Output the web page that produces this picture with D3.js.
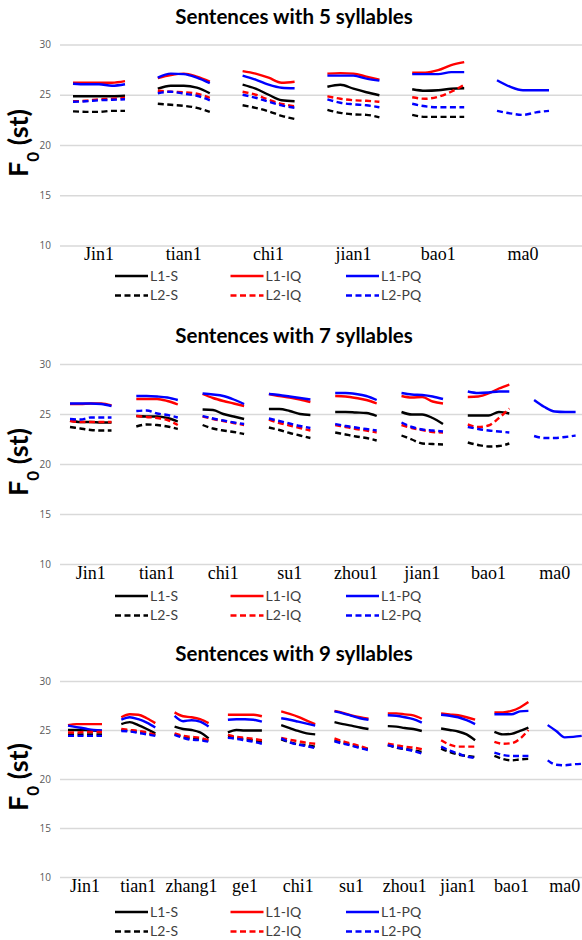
<!DOCTYPE html>
<html>
<head>
<meta charset="utf-8">
<script src="https://cdn.jsdelivr.net/npm/d3@7"></script>
<style>
  body { margin: 0; background: #fff; }
  svg { display: block; }
</style>
</head>
<body>
<svg id="chart" width="582" height="940"></svg>
<script>
// y axis ticks (st) and the six series
var yTicks = [10, 15, 20, 25, 30]
var seriesNames = ['L1-S', 'L1-IQ', 'L1-PQ', 'L2-S', 'L2-IQ', 'L2-PQ']

// syllables of each sentence
var syl5 = ['Jin1', 'tian1', 'chi1', 'jian1', 'bao1', 'ma0']
var syl7 = ['Jin1', 'tian1', 'chi1', 'su1', 'zhou1', 'jian1', 'bao1', 'ma0']
var syl9 = ['Jin1', 'tian1', 'zhang1', 'ge1', 'chi1', 'su1', 'zhou1', 'jian1', 'bao1', 'ma0']

// F0 contours, 5 samples per syllable (st)
var s5_L1S = [[24.85, 24.85, 24.85, 24.85, 24.9], [25.6, 25.9, 25.9, 25.7, 25.15], [26.0, 25.6, 25.0, 24.45, 24.35], [25.8, 26.0, 25.6, 25.25, 24.95], [25.55, 25.4, 25.45, 25.6, 25.65], null]
var s5_L1IQ = [[26.2, 26.2, 26.2, 26.2, 26.35], [26.65, 26.95, 27.1, 26.8, 26.3], [27.35, 27.1, 26.7, 26.2, 26.3], [27.1, 27.15, 27.1, 26.8, 26.5], [27.2, 27.2, 27.45, 27.95, 28.25], null]
var s5_L1PQ = [[26.1, 26.05, 26.05, 25.9, 26.05], [26.7, 27.1, 27.05, 26.7, 26.15], [26.9, 26.5, 26.0, 25.7, 25.65], [26.9, 26.9, 26.9, 26.6, 26.4], [27.05, 27.05, 27.05, 27.25, 27.25], [26.45, 25.8, 25.45, 25.45, 25.45]]
var s5_L2S = [[23.35, 23.3, 23.3, 23.4, 23.4], [24.1, 24.0, 23.9, 23.7, 23.3], [23.95, 23.7, 23.35, 22.9, 22.6], [23.5, 23.2, 23.05, 23.0, 22.75], [23.0, 22.8, 22.8, 22.8, 22.8], null]
var s5_L2IQ = [[24.35, 24.4, 24.55, 24.6, 24.7], [25.4, 25.3, 25.25, 25.1, 24.7], [25.3, 25.0, 24.5, 24.1, 23.85], [24.85, 24.6, 24.45, 24.4, 24.3], [24.75, 24.6, 24.8, 25.3, 26.0], null]
var s5_L2PQ = [[24.3, 24.35, 24.45, 24.5, 24.55], [25.15, 25.3, 25.1, 24.9, 24.45], [25.0, 24.7, 24.3, 23.95, 23.7], [24.55, 24.2, 24.05, 23.95, 23.75], [24.1, 23.85, 23.75, 23.75, 23.75], [23.4, 23.15, 23.0, 23.25, 23.4]]

var s7_L1S = [[24.35, 24.2, 24.2, 24.15, 24.15], [24.8, 24.75, 24.75, 24.6, 24.25], [25.45, 25.4, 25.0, 24.75, 24.5], [25.5, 25.5, 25.3, 25.0, 24.9], [25.2, 25.2, 25.15, 25.1, 24.8], [25.2, 24.95, 24.95, 24.6, 24.0], [24.85, 24.85, 24.85, 25.2, 25.05], null]
var s7_L1IQ = [[26.0, 26.0, 26.05, 26.05, 25.85], [26.5, 26.5, 26.5, 26.3, 25.95], [27.0, 26.6, 26.3, 26.05, 25.8], [27.0, 26.8, 26.65, 26.45, 26.2], [26.8, 26.75, 26.6, 26.4, 26.05], [26.8, 26.65, 26.7, 26.25, 26.05], [26.7, 26.75, 27.05, 27.55, 27.95], null]
var s7_L1PQ = [[26.05, 26.05, 26.05, 26.0, 25.8], [26.8, 26.8, 26.75, 26.65, 26.4], [27.05, 26.95, 26.8, 26.45, 26.0], [27.0, 26.9, 26.75, 26.6, 26.45], [27.1, 27.1, 27.0, 26.8, 26.4], [27.1, 26.95, 26.9, 26.75, 26.5], [27.25, 27.1, 27.15, 27.25, 27.25], [26.4, 25.7, 25.25, 25.2, 25.2]]
var s7_L2S = [[23.7, 23.55, 23.4, 23.35, 23.35], [23.75, 23.95, 23.9, 23.75, 23.5], [23.9, 23.55, 23.35, 23.2, 23.0], [23.65, 23.4, 23.1, 22.85, 22.6], [23.15, 22.95, 22.75, 22.6, 22.35], [22.85, 22.45, 22.05, 22.0, 21.95], [22.15, 21.9, 21.75, 21.8, 22.05], null]
var s7_L2IQ = [[24.3, 24.2, 24.2, 24.2, 24.2], [24.8, 24.7, 24.6, 24.4, 23.9], [24.75, 24.5, 24.3, 24.1, 23.9], [24.45, 24.1, 23.85, 23.6, 23.35], [23.9, 23.7, 23.5, 23.35, 23.15], [23.9, 23.6, 23.4, 23.2, 23.15], [23.95, 23.7, 23.85, 24.6, 25.55], null]
var s7_L2PQ = [[24.5, 24.45, 24.65, 24.65, 24.65], [25.3, 25.35, 25.05, 24.9, 24.65], [24.8, 24.55, 24.35, 24.15, 24.0], [24.55, 24.3, 24.05, 23.8, 23.6], [24.0, 23.8, 23.65, 23.5, 23.35], [24.15, 23.7, 23.45, 23.35, 23.25], [23.7, 23.5, 23.35, 23.25, 23.15], [22.8, 22.6, 22.6, 22.7, 22.85]]

var s9_L1S = [[25.0, 25.0, 25.0, 24.95, 24.9], [25.6, 25.8, 25.5, 25.1, 24.65], [25.35, 25.1, 25.0, 24.75, 24.15], [24.75, 25.0, 24.95, 24.95, 24.95], [25.5, 25.2, 24.9, 24.65, 24.55], [25.8, 25.6, 25.45, 25.25, 25.1], [25.4, 25.35, 25.2, 25.1, 24.9], [25.15, 25.0, 24.85, 24.55, 23.95], [24.8, 24.55, 24.6, 24.9, 25.25], null]
var s9_L1IQ = [[25.5, 25.6, 25.6, 25.6, 25.6], [26.3, 26.6, 26.55, 26.2, 25.7], [26.8, 26.4, 26.3, 26.1, 25.7], [26.55, 26.55, 26.55, 26.55, 26.4], [26.9, 26.65, 26.35, 25.95, 25.6], [26.95, 26.75, 26.5, 26.3, 26.15], [26.7, 26.7, 26.6, 26.5, 26.15], [26.7, 26.6, 26.5, 26.3, 26.05], [26.8, 26.8, 26.95, 27.3, 27.85], null]
var s9_L1PQ = [[25.45, 25.3, 25.15, 25.0, 24.95], [26.05, 26.3, 26.1, 25.75, 25.25], [26.45, 25.9, 26.0, 25.85, 25.35], [26.05, 26.1, 26.1, 26.05, 25.85], [26.2, 26.05, 25.85, 25.65, 25.45], [26.9, 26.7, 26.45, 26.2, 26.05], [26.5, 26.45, 26.3, 26.1, 25.75], [26.55, 26.45, 26.3, 26.0, 25.6], [26.6, 26.6, 26.6, 26.9, 26.95], [25.5, 24.9, 24.25, 24.3, 24.4]]
var s9_L2S = [[24.55, 24.55, 24.55, 24.55, 24.55], [25.0, 24.9, 24.8, 24.65, 24.5], [24.55, 24.3, 24.1, 24.05, 23.9], [24.3, 24.2, 24.05, 23.95, 23.8], [24.05, 23.75, 23.55, 23.45, 23.3], [23.95, 23.7, 23.45, 23.25, 23.05], [23.45, 23.2, 23.05, 22.95, 22.75], [23.1, 22.75, 22.5, 22.35, 22.25], [22.35, 22.05, 21.9, 22.0, 22.05], null]
var s9_L2IQ = [[24.75, 24.75, 24.8, 24.8, 24.8], [25.1, 25.0, 24.9, 24.75, 24.5], [24.65, 24.4, 24.3, 24.2, 23.95], [24.5, 24.3, 24.2, 24.1, 23.95], [24.2, 24.0, 23.85, 23.7, 23.6], [24.15, 23.85, 23.6, 23.35, 23.05], [23.6, 23.45, 23.3, 23.2, 23.05], [23.95, 23.5, 23.3, 23.3, 23.3], [23.8, 23.6, 23.65, 24.1, 25.0], null]
var s9_L2PQ = [[24.4, 24.4, 24.4, 24.4, 24.4], [24.9, 24.85, 24.7, 24.55, 24.4], [24.5, 24.2, 24.0, 23.95, 23.8], [24.2, 24.1, 23.95, 23.8, 23.6], [24.15, 23.75, 23.5, 23.35, 23.15], [23.85, 23.6, 23.4, 23.15, 22.95], [23.45, 23.25, 23.05, 22.85, 22.6], [23.3, 22.9, 22.6, 22.3, 22.15], [22.7, 22.45, 22.35, 22.35, 22.35], [21.9, 21.45, 21.4, 21.5, 21.55]]

// styling
var colors = ['#000000', '#ff0000', '#0000ff', '#000000', '#ff0000', '#0000ff']
var dashes = [null, null, null, '6,3.5', '6,3.5', '6,3.5']

var panels = [
  { title: 'Sentences with 5 syllables', syl: syl5, series: [s5_L1S, s5_L1IQ, s5_L1PQ, s5_L2S, s5_L2IQ, s5_L2PQ],
    top: 44.5, bottom: 245.5, x0: 73, step: 84.8, bw: 52, titleY: 17, legY: 276 },
  { title: 'Sentences with 7 syllables', syl: syl7, series: [s7_L1S, s7_L1IQ, s7_L1PQ, s7_L2S, s7_L2IQ, s7_L2PQ],
    top: 364, bottom: 564, x0: 70, step: 66.3, bw: 41.5, titleY: 336, legY: 596 },
  { title: 'Sentences with 9 syllables', syl: syl9, series: [s9_L1S, s9_L1IQ, s9_L1PQ, s9_L2S, s9_L2IQ, s9_L2PQ],
    top: 681, bottom: 877, x0: 68, step: 53.3, bw: 34, titleY: 654, legY: 912 }
]

var svg = d3.select('#chart')
var W = 582, left = 60

panels.forEach(function (p) {
  var g = svg.append('g')
  var n = p.syl.length
  var y = d3.scaleLinear().domain([10, 30]).range([p.bottom, p.top])
  var x = d3.scaleBand().domain(p.syl)
    .range([p.x0, p.x0 + (n - 1) * p.step + p.bw])
    .paddingInner(1 - p.bw / p.step).paddingOuter(0)
  var xi = d3.scaleLinear().domain([0, 4]).range([0, x.bandwidth()])

  /** title */
  g.append('text').attr('x', 294).attr('y', p.titleY).attr('dy', '0.35em')
    .attr('text-anchor', 'middle').style('font', 'bold 20.5px Lato, sans-serif').text(p.title)

  /** gridlines + tick labels */
  var ya = g.append('g').attr('transform', 'translate(' + left + ',0)')
    .call(d3.axisLeft(y).tickValues(yTicks).tickSize(-(W - left)).tickPadding(9))
  ya.select('.domain').remove()
  ya.selectAll('line').attr('stroke', '#d9d9d9').attr('stroke-width', 1.3)
  ya.selectAll('text').attr('fill', '#595959').style('font', '10px "Open Sans", sans-serif')

  /** y label */
  var yl = g.append('text').attr('transform', 'translate(28,' + (y(20) - 2) + ') rotate(-90)')
    .attr('text-anchor', 'middle').style('font', 'bold 27px Lato, sans-serif')
  yl.append('tspan').text('F')
  yl.append('tspan').attr('baseline-shift', 'sub').style('font-size', '17px').text('0')
  yl.append('tspan').text(' (st)')

  /** syllable labels */
  var xa = g.append('g').attr('transform', 'translate(0,' + p.bottom + ')')
    .call(d3.axisBottom(x).tickSize(0).tickPadding(2))
  xa.select('.domain').remove()
  xa.selectAll('text').attr('fill', '#000').style('font', '18px "Liberation Serif", serif')

  /** contours */
  var line = d3.line().x(function (d, j) { return xi(j) }).y(function (d) { return y(d) })
    .curve(d3.curveMonotoneX)
  p.series.forEach(function (s, k) {
    s.forEach(function (seg, i) {
      if (!seg) return
      g.append('path').attr('d', line(seg))
        .attr('transform', 'translate(' + x(p.syl[i]) + ',0)')
        .attr('fill', 'none').attr('stroke', colors[k]).attr('stroke-width', 2.4)
        .attr('stroke-dasharray', dashes[k])
    })
  })

  /** legend */
  seriesNames.forEach(function (name, k) {
    var lx = 115 + (k % 3) * 115.5
    var ly = p.legY + Math.floor(k / 3) * 19.5
    g.append('line').attr('x1', lx).attr('x2', lx + 33).attr('y1', ly).attr('y2', ly)
      .attr('stroke', colors[k]).attr('stroke-width', 2.4).attr('stroke-dasharray', dashes[k])
    g.append('text').attr('x', lx + 35).attr('y', ly).attr('dy', '0.35em')
      .attr('fill', '#404040').style('font', '14px Lato, sans-serif').text(name)
  })
})
</script>
</body>
</html>
